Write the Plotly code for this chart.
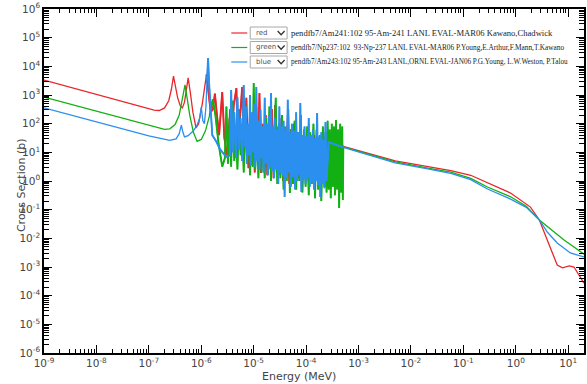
import numpy as np
import plotly.graph_objects as go

# ---------------- data (log10 of Energy [MeV] and Cross Section [b]) ----------------
red_logE = [-9.0, -8.0, -7.5, -7.0, -6.9, -6.8, -6.7, -6.62, -6.57, -6.53, -6.49, -6.45, -6.40, -6.36, -6.32,
            -6.28, -6.25, -6.21, -6.16, -6.10, -6.05, -5.98, -5.93, -5.90, -5.87, -5.82, -5.78, -5.74, -5.70,
            -5.66, -5.60, -5.56, -5.50, -5.45, -5.42, -5.38, -5.33, -5.30, -5.26, -5.22, -5.18, -5.14, -5.10,
            -5.07, -5.04, -5.01, -4.98, -4.95, -4.92, -4.89, -4.86, -4.83, -4.80, -4.77, -4.74, -4.71, -4.68,
            -4.65, -4.62, -4.59, -4.56, -4.53, -4.50, -4.47, -4.44, -4.41, -4.38, -4.35, -4.32, -4.29, -4.26,
            -4.23, -4.20, -4.17, -4.14, -4.11, -4.08, -4.05, -3.95, -3.85, -3.75, -3.65, -3.58, -3.29, -2.95,
            -2.30, -1.68, -1.24, -0.86, -0.54, -0.10, 0.28, 0.45, 0.60, 0.79, 0.89, 1.02, 1.11, 1.21, 1.30]
red_logXS = [3.52, 3.02, 2.77, 2.52, 2.47, 2.46, 2.55, 2.8, 3.2, 3.66, 3.3, 2.9, 2.62, 2.55, 2.75,
             3.2, 3.6, 3.1, 2.4, 1.85, 2.0, 2.7, 3.3, 3.72, 3.2, 2.4, 2.5, 3.05, 2.3,
             1.6, 3.1, 1.5, 0.84, 2.5, 1.4, 2.65, 3.24, 1.43, 2.2, 3.28, 1.0, 2.9, 0.45,
             2.4, 0.9, 1.9, 0.3, 2.6, 0.6, 3.07, 0.28, 2.0, 0.5, 2.3, 0.2, 1.8, 0.4,
             2.5, 0.1, 2.65, 0.3, 1.9, 0.21, 2.2, 0.0, 1.7, 0.2, 2.3, -0.1, 1.8, 0.1,
             2.0, -0.2, 1.6, 0.1, 1.9, -0.3, 1.5, 0.0, 1.6, 0.2, 1.5, 1.36, 1.2, 1.03,
             0.7, 0.49, 0.36, 0.2, -0.05, -0.42, -0.91, -1.36, -2.06, -2.93, -3.03, -2.96, -3.0, -3.28, -3.56]

green_logE = [-9.0, -8.0, -7.0, -6.7, -6.6, -6.5, -6.42, -6.36, -6.31, -6.27, -6.22, -6.15, -6.08, -6.0, -5.92,
              -5.84, -5.78, -5.73, -5.67, -5.60, -5.55, -5.52, -5.49, -5.46, -5.43, -5.40, -5.37, -5.34, -5.31,
              -5.28, -5.25, -5.22, -5.19, -5.16, -5.13, -5.10, -5.07, -5.04, -5.02, -5.00, -4.97, -4.94, -4.91,
              -4.88, -4.85, -4.82, -4.79, -4.76, -4.73, -4.70, -4.67, -4.64, -4.61, -4.58, -4.55, -4.52, -4.49,
              -4.46, -4.43, -4.40, -4.37, -4.34, -4.31, -4.28, -4.25, -4.22, -4.19, -4.16, -4.13, -4.10, -4.07,
              -4.04, -4.01, -3.98, -3.95, -3.92, -3.89, -3.86, -3.83, -3.80, -3.77, -3.74, -3.71, -3.68, -3.65,
              -3.63, -3.61, -3.59, -3.57, -3.55, -3.53, -3.51, -3.49, -3.47, -3.45, -3.43, -3.41, -3.39, -3.37,
              -3.35, -3.33, -3.31, -3.30, -3.29, -2.95, -2.30, -1.68, -1.24, -0.86, -0.54, -0.10, 0.20, 0.45,
              0.70, 0.92, 1.11, 1.30]
green_logXS = [2.93, 2.44, 1.95, 1.80, 1.82, 1.97, 2.3, 2.85, 3.35, 2.9, 2.3, 1.7, 1.38, 1.45, 1.75,
               2.3, 2.85, 2.3, 1.3, 0.5, 0.8, 2.6, 0.6, 2.2, 0.5, 2.8, 0.7, 1.9, 0.4,
               2.5, 0.9, 2.0, 0.3, 2.7, 0.6, 1.8, 0.2, 2.3, 0.5, 3.42, 0.4, 2.1, 0.1,
               2.4, 0.3, 1.9, 0.1, 2.2, 0.28, 2.6, 0.0, 1.8, 0.2, 2.9, -0.1, 2.0, 0.1,
               2.3, -0.3, 1.9, 0.0, 2.5, -0.42, 1.8, -0.1, 2.1, -0.3, 1.7, 0.0, 2.3, -0.4,
               1.8, -0.2, 1.9, -0.5, 1.7, -0.1, 2.0, -0.6, 1.8, -0.3, 1.6, -0.7, 1.9, -0.2,
               1.7, -0.4, 2.1, -0.3, 1.8, -0.6, 2.0, -0.2, 1.9, -0.5, 2.13, -0.3, 1.8, -0.94,
               2.0, -0.4, 1.9, -0.66, 1.19, 1.02, 0.67, 0.45, 0.31, 0.09, -0.21, -0.55, -0.88, -1.36,
               -1.72, -2.06, -2.3, -2.55]

blue_logE = [-9.0, -8.0, -7.0, -6.6, -6.48, -6.42, -6.38, -6.35, -6.32, -6.25, -6.15, -6.08, -6.03, -6.0,
             -5.97, -5.94, -5.91, -5.89, -5.87, -5.85, -5.82, -5.79, -5.72, -5.64, -5.55, -5.51,
             -5.45, -5.43, -5.40, -5.37, -5.34, -5.31, -5.28, -5.25, -5.22, -5.19,
             -5.17, -5.15, -5.13, -5.11, -5.09, -5.07, -5.05, -5.03, -5.01, -4.99,
             -4.97, -4.95, -4.93, -4.91, -4.89, -4.87, -4.85, -4.83, -4.81, -4.79,
             -4.77, -4.75, -4.73, -4.71, -4.69, -4.67, -4.65, -4.63, -4.61, -4.59,
             -4.57, -4.55, -4.53, -4.51, -4.49, -4.47, -4.45, -4.43, -4.41, -4.39,
             -4.37, -4.35, -4.33, -4.31, -4.29, -4.27, -4.25, -4.23, -4.21, -4.19,
             -4.17, -4.15, -4.13, -4.11, -4.09, -4.07, -4.05, -4.03, -4.01, -3.99,
             -3.97, -3.95, -3.93, -3.91, -3.89, -3.87, -3.85, -3.83, -3.81, -3.79,
             -3.77, -3.75, -3.73, -3.71, -3.69, -3.67, -3.65, -3.63, -3.61,
             -3.57, -3.29, -2.95, -2.30, -1.68, -1.24, -0.86, -0.54, -0.10, 0.20, 0.45, 0.60, 0.79, 1.04, 1.30]
blue_logXS = [2.55, 2.07, 1.57, 1.42, 1.47, 1.65, 1.95, 1.70, 1.54, 1.58, 1.75, 1.95, 2.2, 2.58,
              2.1, 2.0, 2.6, 3.5, 4.29, 3.4, 2.3, 1.6, 1.4, 1.1, 0.9, 0.84,
              0.9, 3.17, 1.0, 2.4, 0.8, 2.93, 1.1, 2.2, 0.7, 3.35,
              1.2, 2.6, 0.6, 2.0, 0.9, 3.0, 0.55, 2.4, 1.0, 2.7,
              0.5, 3.28, 0.7, 2.1, 0.4, 2.5, 0.8, 1.9, 0.3, 2.9,
              0.6, 2.0, 0.2, 2.3, 0.5, 3.07, 0.35, 1.9, 0.1, 2.2,
              0.4, 1.8, -0.1, 2.6, 0.3, 1.9, 0.2, 2.1, -0.56, 1.8,
              0.1, 2.83, 0.3, 1.7, -0.2, 2.0, 0.15, 1.75, -0.3, 2.4,
              0.0, 1.7, 0.2, 2.72, -0.38, 1.6, 0.05, 1.9, -0.1, 1.55,
              0.1, 2.2, -0.2, 1.6, -0.05, 1.8, -0.3, 1.5, 0.0, 2.37,
              -0.15, 1.55, -0.56, 1.7, -0.1, 1.45, -0.25, 2.06, 0.0,
              1.36, 1.17, 0.99, 0.63, 0.42, 0.27, 0.05, -0.28, -0.63, -0.92, -1.36, -1.78, -2.16, -2.51, -2.65]

series_names = ["red", "green", "blue"]
series_colors = ["#e8272d", "#12b012", "#2b8ff0"]
series_labels = [
    "pendfb7/Am241:102 95-Am-241 LANL EVAL-MAR06 Kawano,Chadwick",
    "pendfb7/Np237:102&nbsp; 93-Np-237 LANL EVAL-MAR06 P.Young,E.Arthur,F.Mann,T.Kawano",
    "pendfb7/Am243:102 95-Am-243 LANL,ORNL EVAL-JAN06 P.G.Young, L.W.Weston, P.Talou",
]
x_decades = list(range(-9, 2))
y_decades = list(range(-6, 7))

# resonance-region bounds (log E) where the lines are drawn a bit heavier
res_lo, res_hi = -5.9, -3.28

# ---------------- figure ----------------
fig = go.Figure()
for logE, logXS, nm, col in [(red_logE, red_logXS, "red", series_colors[0]),
                             (green_logE, green_logXS, "green", series_colors[1]),
                             (blue_logE, blue_logXS, "blue", series_colors[2])]:
    e = np.array(logE)
    s = np.array(logXS)
    fig.add_trace(go.Scatter(x=10 ** e, y=10 ** s, mode="lines", name=nm,
                             line=dict(color=col, width=1.3), showlegend=False))
    m = (e >= res_lo) & (e <= res_hi)
    fig.add_trace(go.Scatter(x=10 ** e[m], y=10 ** s[m], mode="lines", name=nm,
                             line=dict(color=col, width=1.9), showlegend=False, hoverinfo="skip"))

W, H = 587, 384
L, R, T, B = 44, 1, 9, 31
pw, ph = W - L - R, H - T - B


def px(x):
    return (x - L) / pw


def py(y):
    return (H - B - y) / ph


def lab(d):
    return "10<sup>%d</sup>" % d


minor_x = [m * 10.0 ** d for d in range(-9, 2) for m in range(2, 10) if m * 10.0 ** d <= 20]
minor_y = [m * 10.0 ** d for d in range(-6, 6) for m in range(2, 10)]

tickfont = dict(family="DejaVu Sans", size=10.5, color="#444")
fig.update_xaxes(type="log", range=[-9, 1.301], tickmode="array", tickvals=[10.0 ** d for d in x_decades],
                 ticktext=[lab(d) for d in x_decades], ticks="inside", ticklen=8, tickwidth=1,
                 tickcolor="black", showline=True, linecolor="black", linewidth=1.5, mirror="allticks",
                 showgrid=False, zeroline=False, tickfont=tickfont,
                 minor=dict(tickmode="array", tickvals=minor_x, ticks="inside", ticklen=4,
                            tickcolor="black", tickwidth=1, showgrid=False))
fig.update_yaxes(type="log", range=[-6, 6], tickmode="array", tickvals=[10.0 ** d for d in y_decades],
                 ticktext=[lab(d) for d in y_decades], ticks="inside", ticklen=8, tickwidth=1,
                 tickcolor="black", showline=True, linecolor="black", linewidth=1.5, mirror="allticks",
                 showgrid=False, zeroline=False, tickfont=tickfont,
                 minor=dict(tickmode="array", tickvals=minor_y, ticks="inside", ticklen=5,
                            tickcolor="black", tickwidth=1, showgrid=False))

annotations = [
    dict(text="Energy (MeV)", xref="paper", yref="paper", x=px(300), y=py(377), showarrow=False,
         font=dict(family="DejaVu Sans", size=11, color="#444"), xanchor="center", yanchor="middle"),
    dict(text="Cross Section (b)", xref="paper", yref="paper", x=px(21), y=py(185), showarrow=False,
         textangle=-90, font=dict(family="DejaVu Sans", size=11, color="#444"),
         xanchor="center", yanchor="middle"),
]
shapes = []
rows = [33, 47.5, 62]
label_sizes = [8.6, 7.35, 7.2]
for i, rowy in enumerate(rows):
    shapes.append(dict(type="line", xref="paper", yref="paper", x0=px(232), x1=px(248), y0=py(rowy), y1=py(rowy),
                       line=dict(color=series_colors[i], width=1.2)))
    shapes.append(dict(type="rect", xref="paper", yref="paper", x0=px(251), x1=px(288), y0=py(rowy + 6),
                       y1=py(rowy - 6), line=dict(color="#a8a8a8", width=1), fillcolor="white"))
    shapes.append(dict(type="path", xref="paper", yref="paper",
                       path="M %f,%f L %f,%f L %f,%f" % (px(278.5), py(rowy - 2), px(282), py(rowy + 1.8),
                                                         px(285.5), py(rowy - 2)),
                       line=dict(color="#333", width=1.3)))
    annotations.append(dict(text=series_names[i], xref="paper", yref="paper", x=px(255), y=py(rowy),
                            showarrow=False, xanchor="left", yanchor="middle",
                            font=dict(family="DejaVu Sans", size=7, color="#555")))
    annotations.append(dict(text=series_labels[i], xref="paper", yref="paper", x=px(290), y=py(rowy),
                            showarrow=False, xanchor="left", yanchor="middle",
                            font=dict(family="Liberation Serif", size=label_sizes[i], color="#222")))

fig.update_layout(width=W, height=H, margin=dict(l=L, r=R, t=T, b=B), paper_bgcolor="white",
                  plot_bgcolor="white", annotations=annotations, shapes=shapes, showlegend=False)

fig.write_html("out.html", config={"displayModeBar": False})
with open("out.html", "r", encoding="utf-8") as f:
    html = f.read()
html = html.replace("<head>", "<head><style>html,body{margin:0;padding:0;overflow:hidden;}</style>", 1)
with open("out.html", "w", encoding="utf-8") as f:
    f.write(html)
